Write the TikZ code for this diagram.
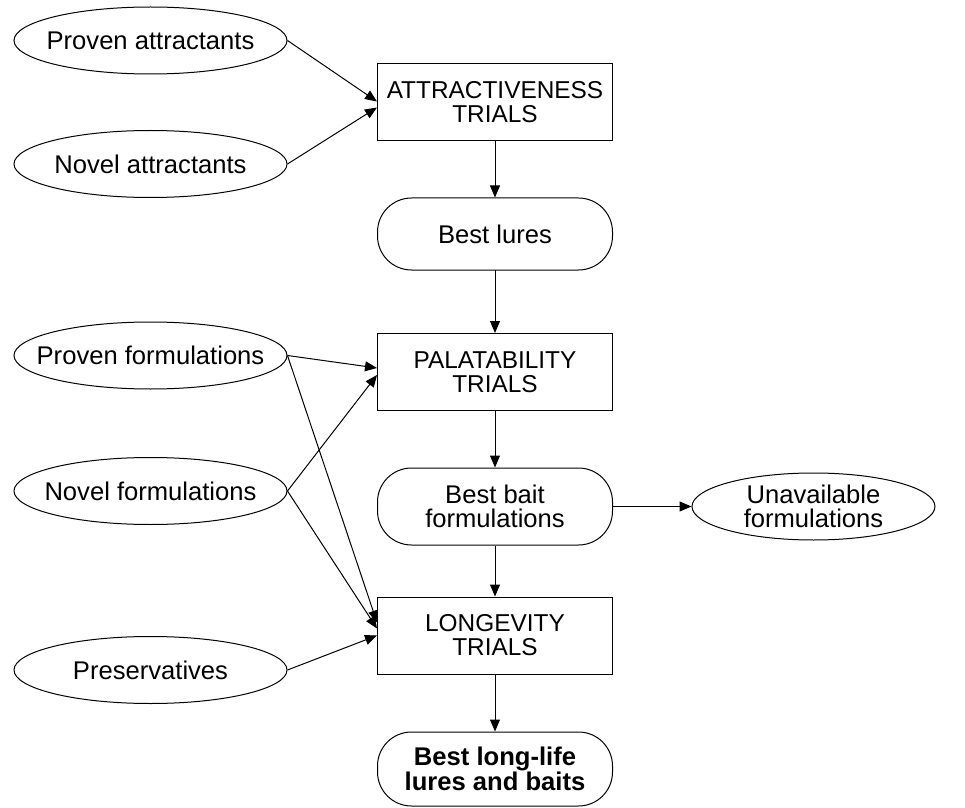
\documentclass[tikz,border=0pt]{standalone}
\usepackage{fontspec}
\setmainfont{Liberation Sans}
\usetikzlibrary{positioning, shapes.geometric, arrows.meta, calc}

\begin{document}
\begin{tikzpicture}[
  x=0.5pt, y=-0.5pt,
  trial/.style={draw, rectangle, minimum width=117.5pt, minimum height=38.5pt, align=center, line width=0.5pt, font=\fontsize{12.2}{12}\selectfont},
  res/.style={draw, rectangle, rounded corners=17pt, minimum width=117.5pt, minimum height=#1, align=center, line width=0.5pt, font=\fontsize{12.8}{12.2}\selectfont},
  res/.default=38pt,
  inp/.style={draw, ellipse, minimum width=#1, minimum height=33.5pt, inner xsep=-14pt, inner ysep=0pt, align=center, line width=0.5pt, font=\fontsize{12.8}{12.2}\selectfont},
  inp/.default=136.5pt,
  edg/.style={-{Triangle[length=6pt, width=5pt]}, line width=0.5pt},
]
\useasboundingbox (0,0) rectangle (965,808);

% ── inputs (left column) ──
\node[inp] (pa)   at (150.5,40.5) {Proven attractants};
\node[inp] (na)   at (150.5,164)  {Novel attractants};
\node[inp] (pf)   at (150.5,355.5) {Proven formulations};
\node[inp] (nf)   at (150.5,491)  {Novel formulations};
\node[inp] (pres) at (150.5,670)  {Preservatives};

% ── trials and results (middle column) ──
\node[trial]    (att)   at (495,102.5) {ATTRACTIVENESS\\TRIALS};
\node[res=36pt] (lures) at (495,234)   {Best lures};
\node[trial]    (pal)   at (495,372)   {PALATABILITY\\TRIALS};
\node[res=38.5pt] (bait) at (495,506.5) {Best bait\\formulations};
\node[trial]    (lon)   at (495,635.5) {LONGEVITY\\TRIALS};
\node[res=37pt, font=\fontsize{12.8}{12.2}\selectfont\bfseries] (final) at (495,769) {Best long-life\\lures and baits};

% ── side output ──
\node[inp=121.5pt] (unav) at (813.5,506.5) {Unavailable\\formulations};

% ── connectors ──
\draw[edg] (pa.east) -- ($(att.west)+(0,-1)$);
\draw[edg] (na.east) -- ($(att.west)+(0,5)$);
\draw[edg] (att) -- (lures);
\draw[edg] (lures) -- (pal);
\draw[edg] (pf.east) -- ($(pal.west)+(0,-4)$);
\draw[edg] (nf.east) -- ($(pal.west)+(0,3)$);
\draw[edg] (pal) -- (bait);
\draw[edg] (bait) -- (unav);
\draw[edg] (bait) -- (lon);
\draw[edg] (pf.east) -- ($(lon.west)+(0,-13)$);
\draw[edg] (nf.east) -- ($(lon.west)+(0,-7)$);
\draw[edg] (pres.east) -- ($(lon.west)+(0,0)$);
\draw[edg] (lon) -- (final);
\end{tikzpicture}
\end{document}
